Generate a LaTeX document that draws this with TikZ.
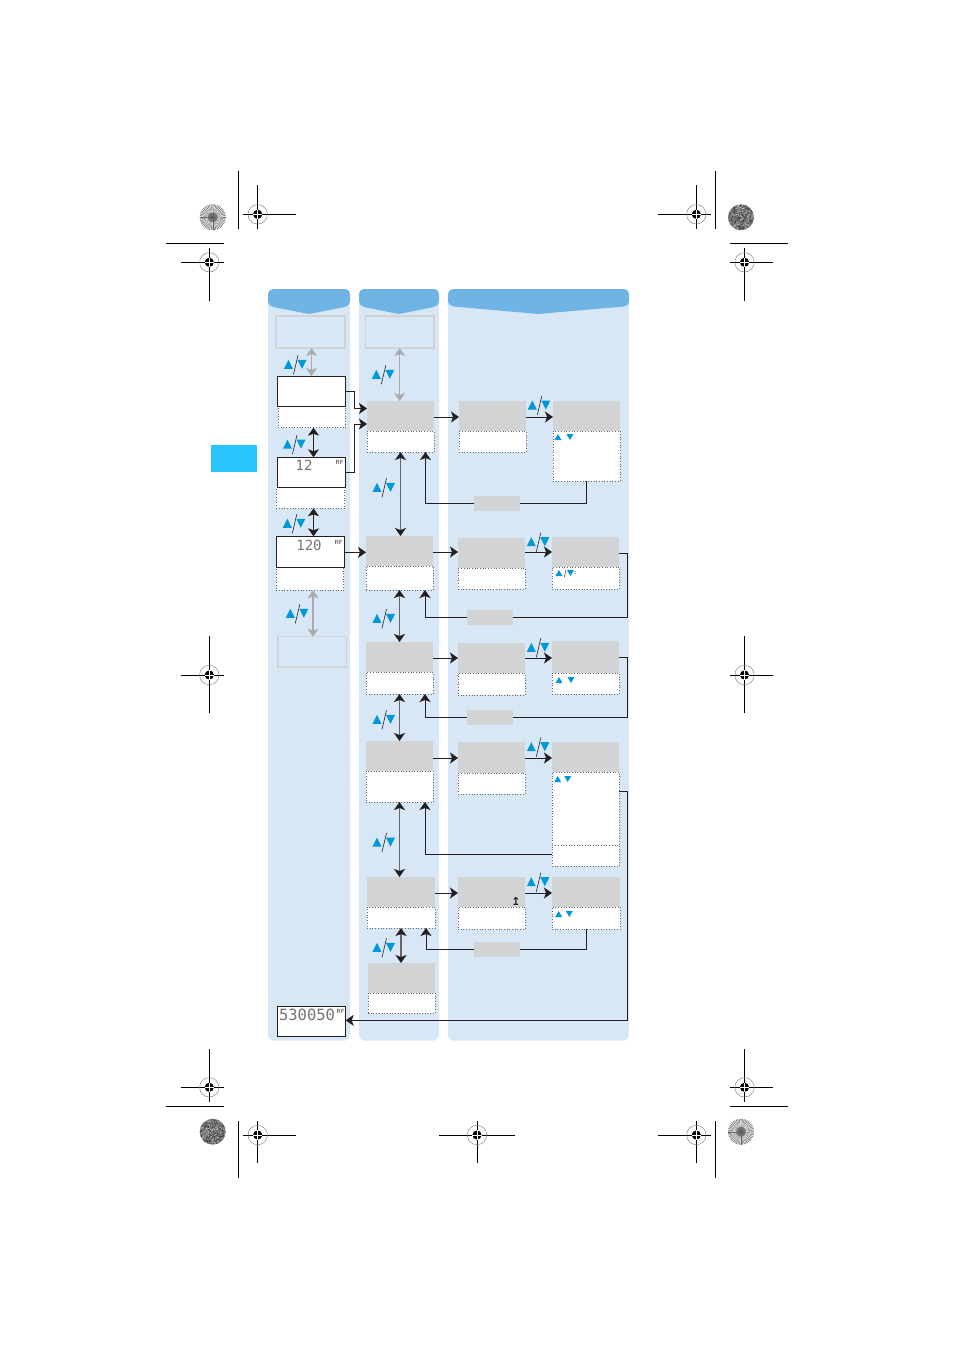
\documentclass[tikz,border=0pt]{standalone}
\usepackage{fontspec}
\usetikzlibrary{arrows.meta,positioning}
\newfontfamily\lcdfont{DejaVu Sans Mono}
\newfontfamily\markfont{DejaVu Sans}
\definecolor{panelblue}{HTML}{D8E7F6}
\definecolor{headblue}{HTML}{70B4E6}
\definecolor{keyblue}{HTML}{0098D8}
\definecolor{tabblue}{HTML}{28C5FF}
\definecolor{headgray}{HTML}{D1D3D4}
\definecolor{ghostgray}{HTML}{D0D2D4}
\definecolor{ink}{HTML}{231F20}
\tikzset{
    headbox/.style={fill=headgray,inner sep=0,outer sep=0,anchor=north west},
    dotbox/.style={fill=white,draw=black!60,dotted,line width=.7pt,inner sep=0,outer sep=0,anchor=north west},
    lcdbox/.style={fill=white,draw=ink,line width=1pt,inner sep=0,outer sep=0,anchor=north west},
    ghostbox/.style={draw=ghostgray,line width=1.5pt,inner sep=0,outer sep=0,anchor=north west},
    lcdtext/.style={text=black!55,inner sep=0,font=\lcdfont\fontsize{14}{14}\selectfont},
    rftext/.style={text=black!62,inner sep=0,font=\sffamily\bfseries\fontsize{6}{6}\selectfont},
    link/.style={draw=ink,line width=1pt,->},
    twoway/.style={draw=black!60,line width=1.3pt,{Stealth[length=8pt,width=11pt,inset=2pt,color=ink]}-{Stealth[length=8pt,width=11pt,inset=2pt,color=ink]}},
    twowayblack/.style={draw=ink,line width=1pt,<->},
    twowaygray/.style={draw=black!33,line width=1.2pt,<->},
    updown/.pic={
        \fill[keyblue] (-11.5,4.5)--(-2.5,4.5)--(-7,-4.5)--cycle;
        \fill[keyblue] (2,-4.5)--(11,-4.5)--(6.5,4.5)--cycle;
        \draw[ink,line width=.6pt] (-2,10)--(2.5,-9);
    },
    smallup/.pic={\fill[keyblue] (-3.5,3)--(3.5,3)--(0,-3)--cycle;},
    smalldown/.pic={\fill[keyblue] (-3.5,-3)--(3.5,-3)--(0,3)--cycle;},
    regmark/.pic={
        \draw[black!55,line width=.4pt] (0,0) circle(9.7);
        \fill[black] (0,0) circle(4.6);
        \draw[white,line width=.5pt] (-4.6,0)--(4.6,0) (0,-4.6)--(0,4.6);
    },
    burstdisc/.pic={
        \fill[black!38] (0,0) circle(13);
        \foreach \a in {0,7.5,...,352.5}
        {
            \draw[black!60,line width=.3pt] (0,0)--(\a:13);
            \draw[white,line width=.5pt] (\a+3.75:5)--(\a+3.75:13);
        }
        \fill[black!75] (0,0) circle(.8);
    },
    noisedisc/.pic={
        \fill[black!55] (0,0) circle(13);
        \foreach \n in {1,...,220}
        {
            \pgfmathsetmacro\ang{360*rnd}
            \pgfmathsetmacro\rad{12.4*sqrt(rnd)}
            \pgfmathsetmacro\tone{rnd>.5?25:80}
            \fill[black!\tone] (\ang:\rad) circle(.6);
        }
    },
}
\begin{document}
\begin{tikzpicture}[x=1pt,y=-1pt,>={Stealth[length=8pt,width=11pt,inset=2pt]}]
\useasboundingbox (0,0) rectangle (954,1350);
\pgfmathsetseed{4242}
% crop lines
\foreach \xa/\ya/\xb/\yb in {238.3/171/238.3/229, 166/243.3/224/243.3, 715.3/171/715.3/229, 730/243.3/787.7/243.3,
    166/1106.3/224/1106.3, 238.3/1121/238.3/1178, 715.3/1121/715.3/1178, 730/1106.3/787.7/1106.3}
{
    \draw[black,line width=1pt] (\xa,\ya)--(\xb,\yb);
}
% registration marks
\foreach \x/\y/\xa/\xb/\ya/\yb in {257.7/214.3/243/295.7/185/229, 209.3/262.3/181/224/247.7/300.7,
    696.3/214.3/658/711/185/229, 744.5/262.3/730/772.7/247.7/300.7,
    209.3/675/181/224/636/712.7, 744.5/675/730/772.7/636/712.7,
    209.3/1087.3/181/224/1049/1101.7, 744.5/1087.3/730/772.7/1049/1101.7,
    257.7/1135/243/295.7/1121/1163.3, 477/1135/439/515/1121/1163.3, 696.3/1135/658/711/1121/1163.3}
{
    \draw[black,line width=1pt] (\xa,\y)--(\xb,\y) (\x,\ya)--(\x,\yb);
    \pic at (\x,\y) {regmark};
}
\pic at (212.7,217.3) {burstdisc};
\pic at (741,217.3) {noisedisc};
\pic at (212.7,1131.7) {noisedisc};
\pic at (741,1131.7) {burstdisc};
\fill[tabblue] (211,445) rectangle (257,472);
% panels
\foreach \xa/\xb/\xt in {268/350/309, 359/439/399, 448/629/538.3}
{
    \fill[panelblue,rounded corners=6] (\xa,297)--(\xb,297)--(\xb,1040.7)--(\xa,1040.7)--cycle;
    \fill[headblue] (\xa,298) [rounded corners=5]--(\xa,289)--(\xb,289)--(\xb,306) [sharp corners]--(\xt,314) [rounded corners=5]--(\xa,306)--cycle;
}
% ghost screens
\node[ghostbox,minimum width=69pt,minimum height=32pt] (ghosta) at (276,316) {};
\node[ghostbox,minimum width=68.7pt,minimum height=32pt] (ghostb) at (365.3,316) {};
\node[ghostbox,minimum width=68.7pt,minimum height=30.3pt] (ghostc) at (278,636.7) {};
% screens of the first column
\foreach \name/\xa/\xb/\ya/\yb/\xc/\xd/\yc in {lcda/277.3/345.7/376/406.7/278/345/427.7,
    lcdb/277.3/345.7/457.3/487.3/276.3/344.7/508.3, lcdc/276.3/344.7/536.3/567.3/276.3/343.7/590.3}
{
    \node[dotbox,minimum width=(\xd-\xc)*1pt,minimum height=(\yc-\yb)*1pt] (\name d) at (\xc,\yb) {};
    \node[lcdbox,minimum width=(\xb-\xa)*1pt,minimum height=(\yb-\ya)*1pt] (\name) at (\xa,\ya) {};
}
\node[lcdbox,minimum width=68.4pt,minimum height=30.7pt] (lcdend) at (277.3,1006) {};
\node[lcdtext] (numb) at (304,465.5) {12};
\node[rftext] (rfb) at (339.5,462) {RF};
\node[lcdtext] (numc) at (309,545) {120};
\node[rftext] (rfc) at (338.5,542) {RF};
\node[lcdtext,font=\lcdfont\fontsize{15.5}{15.5}\selectfont] (numend) at (307,1014.5) {530050};
\node[rftext] (rfend) at (340.5,1011) {RF};
% menu boxes
\foreach \name/\xa/\xb/\ya/\yb/\yc in {col1/367/434/401/431/452, col2/366/433/536/566/590, col3/366/433/642/672/694,
    col4/366/433/741/771/802, col5/367/435/877/907/928, col6/368/435/963/993/1013,
    r1a/459/526/401/431/452, r1b/553/620/401/431/481, r2a/458/525/538/568/589, r2b/552/619/537/567/589,
    r3a/458/525/643/673/695, r3b/552/619/641/673/694, r4a/458/525/742/773/794, r4b/552/619/742/772/845,
    r5a/458/525/877/907/929, r5b/552/620/877/907/929}
{
    \node[dotbox,minimum width=(\xb-\xa)*1pt,minimum height=(\yc-\yb)*1pt] (\name d) at (\xa,\yb) {};
    \node[headbox,minimum width=(\xb-\xa)*1pt,minimum height=(\yb-\ya)*1pt] (\name) at (\xa,\ya) {};
}
\node[dotbox,minimum width=67pt,minimum height=21pt] (r4c) at (552,845) {};
\node[text=ink,inner sep=0,font=\markfont\bfseries\fontsize{11}{11}\selectfont] (upbar) at (516,901) {↥};
% grey labels on the return lines
\foreach \name/\xa/\ya in {lab1/474/496, lab2/467/610, lab3/467/710, lab5/474/942}
{
    \node[headbox,minimum width=46pt,minimum height=15pt] (\name) at (\xa,\ya) {};
}
% up and down keys
\foreach \x/\y in {295.5/364.3, 294.5/444, 294.3/523.3, 297.3/613.3, 383.3/374.3, 384/487.3, 384/618.3, 384/719.3,
    384/842, 384/947.3, 539.3/405, 538.3/541.7, 538.3/647.3, 538.3/746.7, 538.3/881.7}
{
    \pic at (\x,\y) {updown};
}
\foreach \xa/\xb/\y in {558/570/437, 559/571/680, 557.7/567.7/779, 558.7/569.3/914}
{
    \pic at (\xa,\y) {smallup};
    \pic at (\xb,\y) {smalldown};
}
\pic at (559,573) {smallup};
\pic at (570.5,573) {smalldown};
\draw[ink,line width=.4pt] (564.3,577)--(566,570);
\node[text=ink,inner sep=0,font=\sffamily\bfseries\fontsize{6}{6}\selectfont] (colon) at (575.3,573) {:};
% arrows between the screens
\draw[twowaygray] (lcda.north |- ghosta.south)--(lcda.north);
\draw[twowaygray] (ghostb.south)--(ghostb.south |- col1.north);
\draw[twowaygray] ([xshift=3pt]lcdcd.south)--([xshift=3pt]lcdcd.south |- ghostc.north);
\draw[twowayblack] ([xshift=2pt]lcdad.south)--([xshift=2pt]lcdad.south |- lcdb.north);
\draw[twowayblack] ([xshift=3pt]lcdbd.south)--([xshift=3pt]lcdbd.south |- lcdc.north);
\foreach \a/\b in {col1d/col2, col2d/col3, col3d/col4, col4d/col5, col5d/col6}
{
    \draw[twoway] (\a.south)--(\a.south |- \b.north);
}
\draw[link] (lcda.east)--++(8.3,0)|-([yshift=7.5pt]col1.west);
\draw[link] (lcdb.east)--++(9,0)|-([yshift=-8pt]col1.west);
\draw[link] ([yshift=-.5pt]lcdc.east)--([yshift=-.5pt]lcdc.east -| col2.west);
\foreach \a/\b/\c/\dy in {col1/r1a/r1b/-1pt, col2/r2a/r2b/-1pt, col3/r3a/r3b/-1pt, col4/r4a/r4b/-2pt, col5/r5a/r5b/-1pt}
{
    \draw[link] ([yshift=\dy]\a.east)--([yshift=\dy]\a.east -| \b.west);
    \draw[link] ([yshift=\dy]\a.east -| \b.east)--([yshift=\dy]\a.east -| \c.west);
}
% return lines
\coordinate (rail) at (627.3,0);
\draw[link,-] (r1bd.south)|-(lab1.east);
\draw[link] (lab1.west)-|([xshift=25pt]col1d.south);
\draw[link,-] ([yshift=-1pt]r2b.east)-|(rail |- lab2.east)--(lab2.east);
\draw[link] (lab2.west)-|([xshift=25.5pt]col2d.south);
\draw[link,-] (r3b.east)-|(rail |- lab3.east)--(lab3.east);
\draw[link] (lab3.west)-|([xshift=25.5pt]col3d.south);
\draw[link] ([yshift=1.5pt]r4c.west)-|([xshift=25.5pt]col4d.south);
\draw[link,-] (r5bd.south)|-(lab5.east);
\draw[link] (lab5.west)-|([xshift=25pt]col5d.south);
\draw[link] ([yshift=17.5pt]r4bd.east)-|([yshift=1pt]rail |- lcdend.east)--([yshift=1pt]lcdend.east);
\end{tikzpicture}
\end{document}
